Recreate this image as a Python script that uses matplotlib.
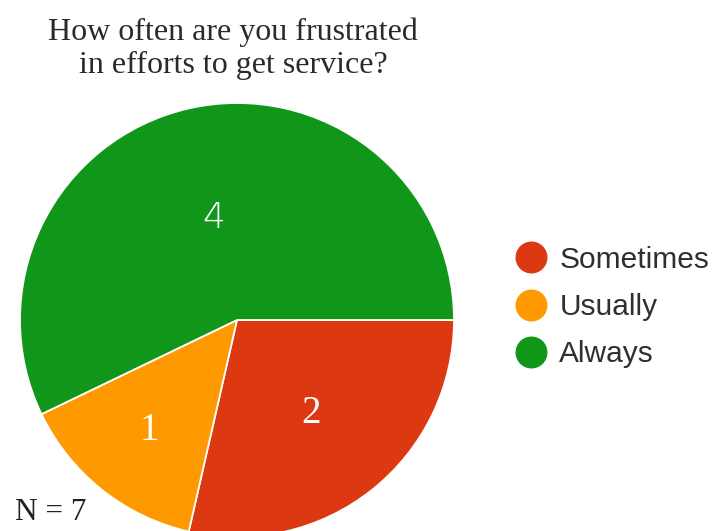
import matplotlib
matplotlib.use("Agg")
import matplotlib.pyplot as plt
import numpy as np
from matplotlib.lines import Line2D

# survey answers
categories = ["Sometimes", "Usually", "Always"]
counts = [2, 1, 4]
colors = ["#DC3912", "#FF9900", "#109618"]
n_total = 7

# how far from the centre each count label sits (fraction of radius)
label_radius = [0.55, 0.65, 0.48]
label_family = ["Liberation Serif", "Liberation Serif", "DejaVu Sans"]

fig = plt.figure(figsize=(7.13, 5.31), dpi=100)
ax = fig.add_axes([20 / 713, -6 / 531, 434 / 713, 434 / 531])

wedges, _ = ax.pie(counts, colors=colors, startangle=0, counterclock=False,
                   radius=1.0, wedgeprops=dict(edgecolor="white", linewidth=1.3))
ax.set_xlim(-1, 1)
ax.set_ylim(-1, 1)
ax.set_aspect("equal")
ax.axis("off")

# count labels inside the slices
for w, c, r, fam in zip(wedges, counts, label_radius, label_family):
    mid = np.deg2rad((w.theta1 + w.theta2) / 2)
    size = 28 if fam != "DejaVu Sans" else 26
    ax.text(r * np.cos(mid), r * np.sin(mid), str(c), color="white",
            fontsize=size, family=fam, ha="center", va="center",
            fontweight="light")

fig.text(233 / 713, 1 - 49 / 531,
         "How often are you frustrated\nin efforts to get service?",
         family="Liberation Serif", fontsize=23, color="#2a2a2a",
         ha="center", va="center", linespacing=1.2)

fig.text(15 / 713, 1 - 513 / 531, "N = %d" % n_total, family="Liberation Serif",
         fontsize=22.5, color="#222222", ha="left", va="center")

handles = [Line2D([], [], marker="o", linestyle="none", markersize=22,
                  markerfacecolor=col, markeredgecolor=col) for col in colors]
fig.legend(handles, categories, loc="center left",
           bbox_to_anchor=(516 / 713, 224 / 531), frameon=False,
           prop=dict(family="Liberation Sans", size=21.5),
           labelcolor="#2f2f2f", handlelength=1.0, handletextpad=0.45,
           labelspacing=0.65, borderpad=0, borderaxespad=0)

fig.savefig("out.png", dpi=100)
